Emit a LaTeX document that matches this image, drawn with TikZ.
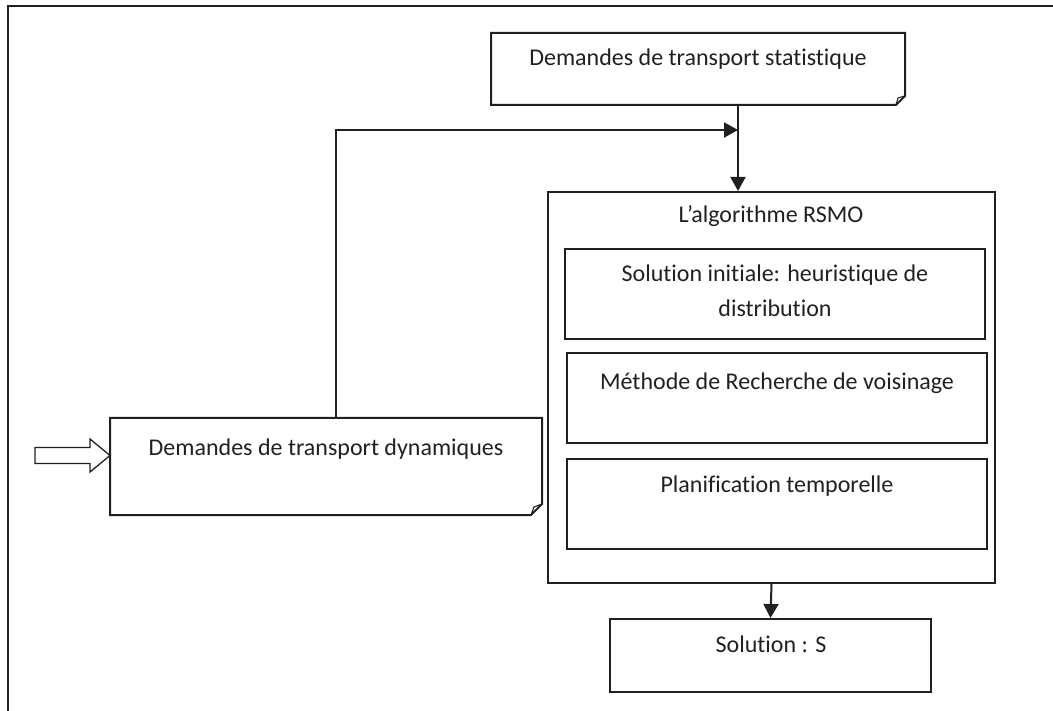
\documentclass[tikz,border=0pt]{standalone}
\usepackage{fontspec}
\setmainfont[Ligatures=NoCommon]{Carlito}
\usetikzlibrary{arrows.meta}
\definecolor{ink}{RGB}{35,31,32}
\begin{document}
\begin{tikzpicture}[x=1pt,y=-1pt,
  txt/.style={font=\fontsize{24}{35}\selectfont, text=ink, anchor=base, inner sep=0pt},
  boxline/.style={draw=ink, line width=2pt},
  fold/.style={draw=ink, line width=1.1pt},
  arr/.style={-{Triangle[length=14pt,width=15pt]}, draw=ink, line width=2pt}]
\useasboundingbox (0,0) rectangle (1053,711);
% outer frame (top and left only)
\draw[boxline] (1053,6) -- (8,6) -- (8,711);
% top box with folded corner
\draw[boxline] (491,33) -- (905,33) -- (905,96) -- (896,105) -- (491,105) -- cycle;
\draw[fold] (896,105) -- (898,98) -- (905,96);
\node[txt] (stat) at (698,65.5) {Demandes de transport statistique};
\coordinate (statb) at (738,105);
% dynamic box with folded corner
\draw[boxline] (110,418) -- (542,418) -- (542,504) -- (531,515) -- (110,515) -- cycle;
\draw[fold] (531,515) -- (534,507) -- (542,504);
\node[txt] (dyn) at (326,455) {Demandes de transport dynamiques};
\coordinate (dynt) at (336,418);
% block input arrow
\draw[draw=ink, line width=1.3pt, fill=white] (35,447.5) -- (90,447.5) -- (90,439) -- (110,455.5)
  -- (90,472) -- (90,463.5) -- (35,463.5) -- cycle;
% RSMO outer box
\node[boxline, minimum width=447pt, minimum height=391pt, inner sep=0pt] (rsmo) at (771.5,387.5) {};
\node[txt] (rsmot) at (771,223) {L’algorithme RSMO};
% inner boxes
\node[boxline, minimum width=420pt, minimum height=90pt, inner sep=0pt] (b1) at (775,294) {};
\node[txt] (b1ta) at (775,282) {Solution initiale: heuristique de};
\node[txt] (b1tb) at (775,317) {distribution};
\node[boxline, minimum width=420pt, minimum height=90pt, inner sep=0pt] (b2) at (777,398) {};
\node[txt] (b2t) at (777,390) {Méthode de Recherche de voisinage};
\node[boxline, minimum width=420pt, minimum height=90pt, inner sep=0pt] (b3) at (777,504) {};
\node[txt] (b3t) at (777,492) {Planification temporelle};
% solution box
\node[boxline, minimum width=321pt, minimum height=73pt, inner sep=0pt] (sol) at (770.5,655.5) {};
\node[txt] (solt) at (771,652) {Solution : S};
% connectors
\coordinate (join) at (738,130);
\draw[arr] (statb) -- (rsmo.north -| statb);
\draw[arr] (dynt) -- (dynt |- join) -- (join);
\draw[arr] (rsmo.south) -- (sol.north);
\end{tikzpicture}
\end{document}
